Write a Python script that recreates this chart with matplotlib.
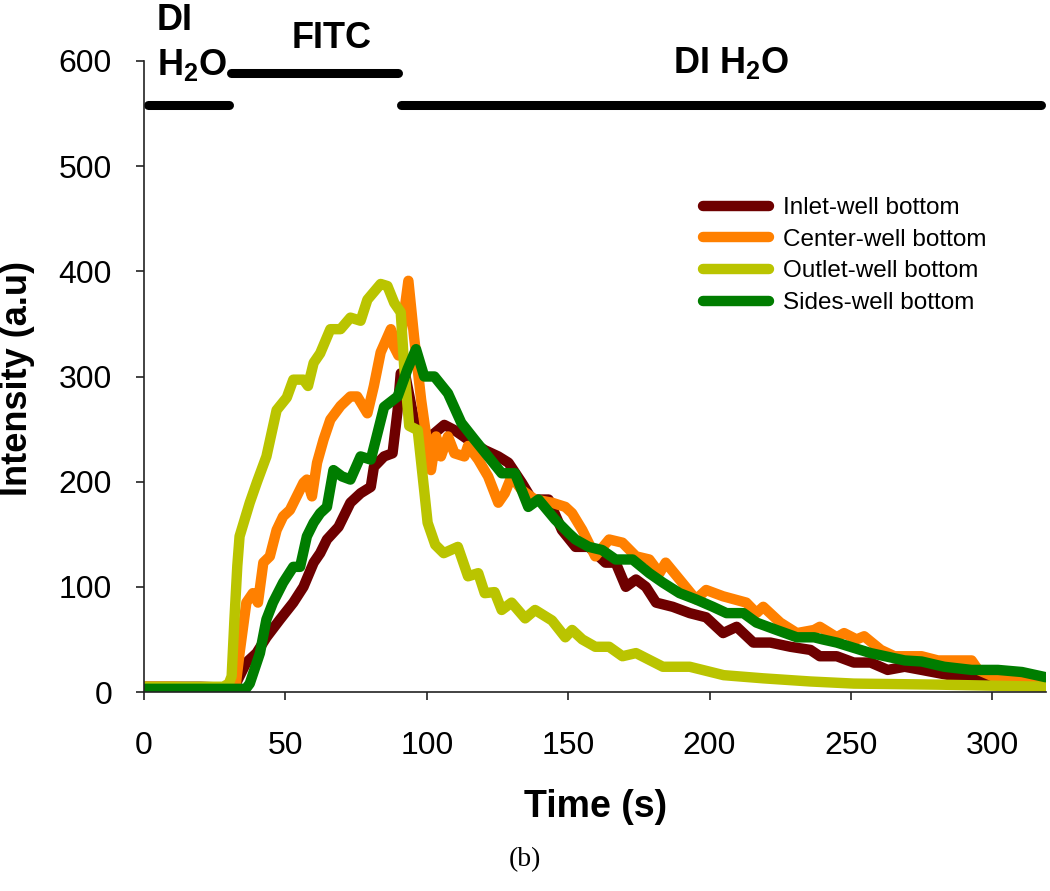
import matplotlib
matplotlib.use("Agg")
import matplotlib.pyplot as plt

plt.rcParams['font.family'] = ['Liberation Sans', 'DejaVu Sans']
plt.rcParams['mathtext.fontset'] = 'custom'
plt.rcParams['mathtext.rm'] = 'Liberation Sans:bold'
plt.rcParams['mathtext.bf'] = 'Liberation Sans:bold'
plt.rcParams['mathtext.default'] = 'bf'

# ---- data ----
inlet_t = [0, 10, 20, 30, 32.7, 36.2, 39.8, 43.3, 48.1, 52.8, 56.4, 60, 62.3, 64.7, 68.8, 73, 76.6, 80.2, 81.3,
           84.9, 87.9, 89.7, 90.8, 92.5, 95.5, 99, 102.7, 106.2, 109.8, 114.6, 120.5, 125.3, 128.9, 133.6, 137.2,
           143.1, 147.8, 152.6, 157.3, 163.2, 166.8, 170.4, 174, 177.5, 181.1, 187, 193, 198.8, 204.8, 209.6,
           215.5, 221.5, 228.6, 235.7, 239, 245, 251, 257, 263, 269, 275, 286.8, 298.5, 310, 319]
inlet_v = [5, 5, 5, 4, 9, 28, 37, 52, 69, 85, 100, 123, 132, 145, 157, 180, 189, 195, 214,
           224, 227, 268, 303, 300, 259, 240, 246, 254, 249, 240, 230, 224, 218, 199, 183,
           183, 154, 138, 138, 123, 123, 100, 107, 100, 85, 81, 75, 71, 56, 62,
           47, 47, 43, 40, 34, 34, 28, 28, 21, 24, 21, 15, 15, 15, 11]

center_t = [0, 10, 20, 30, 32.5, 33.8, 36.2, 38.5, 40.3, 42.2, 44.5, 46.9, 49.2, 51.6, 54, 56.4, 57.6, 59.4,
            61.2, 63.5, 65.9, 69.5, 73, 75.4, 79, 81.3, 83.7, 87.3, 88.3, 90, 93.5, 95.5, 98, 100.3, 101.5,
            103.3, 105, 107.5, 109.8, 113.3, 114.6, 118.2, 121.7, 125.3, 127.6, 130, 133.6, 138.3, 144.3,
            149, 151.4, 155, 159.6, 164.5, 169.2, 174, 178.7, 182.3, 184.5, 189.4, 195.2, 198.8, 204.8,
            213, 216.6, 219, 225, 230.9, 237, 239, 245, 247.6, 252, 254.7, 260.6, 265.4, 269, 275, 280.8,
            286.8, 292.7, 295, 301, 310.5, 319]
center_v = [5, 5, 4, 4, 8, 37, 85, 94, 85, 123, 129, 154, 167, 173, 186, 199, 202, 186,
            218, 240, 259, 272, 281, 281, 265, 291, 323, 345, 329, 320, 391, 338, 278, 234, 211,
            243, 224, 243, 227, 224, 234, 221, 205, 180, 189, 205, 192, 183, 180,
            176, 170, 154, 129, 145, 142, 129, 126, 113, 123, 107, 88, 97, 91,
            85, 75, 81, 66, 56, 59, 62, 52, 56, 50, 53, 40, 34, 34, 34, 30,
            30, 30, 21, 14, 14, 11]

outlet_t = [0, 10, 20, 28, 30, 31, 32, 33, 33.8, 37.4, 40, 43.3, 46.9, 50.5, 52.8, 56.4, 58, 60, 62.3, 65.9,
            69.5, 73, 76.6, 79, 83.7, 86.1, 88.5, 90.8, 92, 93.8, 96.8, 99.2, 100.3, 103, 106, 111, 114.6,
            118.2, 120.5, 124, 126.5, 130, 134.8, 138.3, 144.3, 149, 151.4, 155, 159.6, 164.5, 169.2, 174,
            183.5, 193, 205, 219, 235.7, 251, 281, 319]
outlet_v = [5, 5, 5, 5, 8, 15, 70, 120, 148, 180, 200, 224, 268, 280, 297, 297, 291, 313, 322, 345,
            345, 356, 353, 373, 388, 386, 370, 361, 310, 253, 249, 189, 161, 140, 132, 138, 110,
            113, 94, 95, 78, 85, 70, 78, 68, 52, 59, 50, 43, 43, 34, 37,
            24, 24, 16, 13, 10, 8, 7, 5]

sides_t = [0, 10, 20, 30, 36, 37.4, 41, 43.3, 45.6, 49.2, 52.8, 55.2, 57.6, 60, 62.3, 64.7, 67, 70, 73, 76.6,
           80.2, 82, 84.9, 89.7, 93.2, 96.2, 99.1, 102.7, 107.5, 112.2, 116.9, 121.7, 126.5, 131.2, 135.9,
           139.5, 145.4, 150.2, 152.6, 157.3, 162, 166.8, 172.8, 178.7, 183.5, 189.4, 195.2, 201.2, 206, 212,
           216.6, 223.7, 230.9, 237, 240, 245, 257, 269, 275, 283, 292.7, 302, 310.5, 319]
sides_v = [3, 3, 3, 3, 3, 8, 37, 69, 85, 104, 119, 119, 148, 161, 170, 176, 211, 205, 202, 224,
           221, 240, 271, 281, 307, 326, 300, 300, 284, 256, 240, 224, 208, 208, 176,
           183, 164, 151, 145, 138, 135, 126, 126, 113, 104, 94, 88, 81, 75, 75,
           66, 59, 52, 52, 50, 47, 37, 30, 29, 24, 21, 21, 19, 14]

series_labels = ["Inlet-well bottom", "Center-well bottom", "Outlet-well bottom", "Sides-well bottom"]
series_colors = ["#6E0000", "#FF8000", "#BAC400", "#007D00"]

# phase bars: (start, end, level)
phase_start = [1.4, 30.8, 91.0]
phase_end = [30.0, 89.9, 317.3]
phase_level = [558, 589, 558]

xticks = [0, 50, 100, 150, 200, 250, 300]
yticks = [0, 100, 200, 300, 400, 500, 600]

# ---- figure ----
W, H = 1050, 891
fig = plt.figure(figsize=(W / 100, H / 100), dpi=100)
ax = fig.add_axes([144 / W, 1 - 692 / H, (1046 - 144) / W, (692 - 61) / H])

lw = 7.5
for t, v, lab, c in zip([inlet_t, center_t, outlet_t, sides_t],
                        [inlet_v, center_v, outlet_v, sides_v],
                        series_labels, series_colors):
    ax.plot(t, v, color=c, lw=lw, label=lab, solid_joinstyle='round', solid_capstyle='round')

for s, e, lv in zip(phase_start, phase_end, phase_level):
    ax.plot([s, e], [lv, lv], color='black', lw=6.5, solid_capstyle='round', clip_on=False)

ax.set_xlim(0, 319)
ax.set_ylim(0, 600)
ax.set_xticks(xticks)
ax.set_yticks(yticks)
for sp in ['top', 'right']:
    ax.spines[sp].set_visible(False)
for sp in ['left', 'bottom']:
    ax.spines[sp].set_linewidth(1.2)
    ax.spines[sp].set_color('#222222')
ax.tick_params(axis='both', direction='out', length=6, width=1.2, color='#222222', labelsize=23)
ax.tick_params(axis='x', pad=22)
ax.tick_params(axis='y', pad=17)

fig.text(18 / W, 1 - 378 / H, "Intensity (a.u)", rotation=90, ha='center', va='center',
         fontsize=26, fontweight='bold')
fig.text(596 / W, 1 - 817 / H, "Time (s)", ha='center', va='baseline', fontsize=27, fontweight='bold')
fig.text(525 / W, 1 - 866 / H, "(b)", ha='center', va='baseline', fontsize=20, family='Liberation Serif')

fig.text(157 / W, 1 - 30 / H, "DI", ha='left', va='baseline', fontsize=26, fontweight='bold')
fig.text(157 / W, 1 - 75 / H, "H$_2$O", ha='left', va='baseline', fontsize=26, fontweight='bold')
fig.text(332 / W, 1 - 48 / H, "FITC", ha='center', va='baseline', fontsize=26, fontweight='bold')
fig.text(731 / W, 1 - 73 / H, "DI H$_2$O", ha='center', va='baseline', fontsize=26, fontweight='bold')

leg = ax.legend(loc='upper left', bbox_to_anchor=(703 / W, 1 - 197 / H), bbox_transform=fig.transFigure,
                frameon=False, fontsize=17.5, handlelength=2.7, handletextpad=0.6, labelspacing=0.4,
                borderpad=0, borderaxespad=0)
for ln in leg.get_lines():
    ln.set_linewidth(7.5)
    ln.set_solid_capstyle('round')

fig.savefig("out.png", dpi=100)
